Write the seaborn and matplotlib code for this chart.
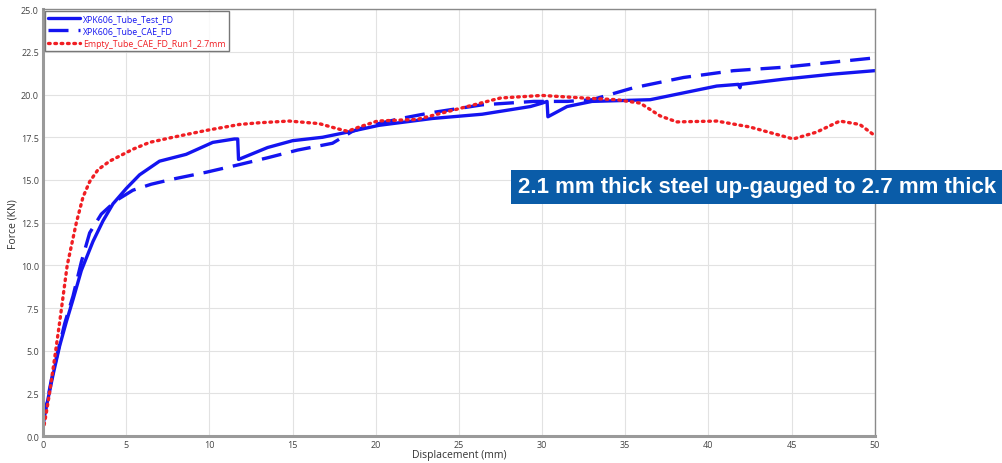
import numpy as np
import pandas as pd
import matplotlib
matplotlib.use("Agg")
import matplotlib.pyplot as plt
import seaborn as sns

# ---- data ----
test_x = [0.0, 0.1, 0.3, 0.6, 1.0, 1.4, 1.8, 2.3, 3.0, 3.6, 4.2, 5.0, 5.8, 7.0, 8.6, 10.2, 11.5, 11.7,
          11.75, 13.5, 15.0, 16.8, 18.3, 20.2, 23.4, 26.4, 29.3, 30.0, 30.3, 30.35, 31.5, 33.0,
          36.5, 38.5, 40.5, 41.8, 41.9, 41.95, 44.5, 47.5, 50.0]
test_y = [0.6, 1.3, 2.2, 3.6, 5.3, 6.7, 8.0, 9.7, 11.4, 12.6, 13.6, 14.5, 15.3, 16.1, 16.5, 17.2, 17.4, 17.4,
          16.2, 16.9, 17.3, 17.5, 17.8, 18.2, 18.6, 18.85, 19.3, 19.5, 19.6, 18.7, 19.3, 19.6,
          19.7, 20.1, 20.5, 20.6, 20.4, 20.6, 20.9, 21.2, 21.4]

cae_x = [0.0, 0.2, 0.5, 0.9, 1.3, 1.8, 2.3, 2.8, 3.5, 4.4, 5.4, 6.5, 7.8, 9.8, 11.8, 13.5, 15.3,
         17.4, 18.6, 19.5, 21.5, 23.4, 26.4, 29.5, 31.5, 33.0, 35.5, 38.5, 41.5, 44.5, 47.5, 50.0]
cae_y = [0.8, 1.8, 3.3, 5.0, 6.6, 8.2, 10.2, 11.9, 13.0, 13.8, 14.4, 14.75, 15.05, 15.45, 15.9, 16.3, 16.75,
         17.15, 17.85, 18.15, 18.6, 18.95, 19.4, 19.6, 19.6, 19.7, 20.4, 21.0, 21.4, 21.6, 21.9, 22.15]

empty_x = [0.0, 0.2, 0.4, 0.7, 1.0, 1.45, 2.0, 2.4, 2.8, 3.3, 4.0, 5.4, 6.4, 7.8, 9.8, 11.8, 13.0,
           14.8, 16.6, 17.7, 18.3, 19.0, 20.1, 22.5, 25.5, 27.5, 30.0, 32.5, 34.5, 35.9, 37.1, 38.1,
           40.5, 42.5, 45.1, 46.5, 47.9, 49.1, 50.0]
empty_y = [0.3, 1.4, 2.6, 4.6, 6.7, 10.0, 12.5, 14.0, 14.9, 15.6, 16.1, 16.8, 17.2, 17.5, 17.9, 18.25, 18.35,
           18.45, 18.3, 18.0, 17.85, 18.1, 18.45, 18.55, 19.3, 19.8, 19.95, 19.8, 19.7, 19.5, 18.75, 18.4,
           18.45, 18.1, 17.4, 17.8, 18.45, 18.25, 17.6]

labels = ["XPK606_Tube_Test_FD", "XPK606_Tube_CAE_FD", "Empty_Tube_CAE_FD_Run1_2.7mm"]
x_ticks = [0, 5, 10, 15, 20, 25, 30, 35, 40, 45, 50]
y_ticks = [0.0, 2.5, 5.0, 7.5, 10.0, 12.5, 15.0, 17.5, 20.0, 22.5, 25.0]
annotation = "2.1 mm thick steel up-gauged to 2.7 mm thick"

sns.set_theme(style="whitegrid")
plt.rcParams['font.family'] = ['Open Sans', 'DejaVu Sans']

fig = plt.figure(figsize=(10.02, 4.64), dpi=100)
ax = fig.add_axes([0.043, 0.058, 0.830, 0.920])

blue = "#1414f0"
red = "#f01e23"
sns.lineplot(x=test_x, y=test_y, ax=ax, sort=False, color=blue, lw=2.4, label=labels[0])
sns.lineplot(x=cae_x, y=cae_y, ax=ax, sort=False, color=blue, lw=2.4, label=labels[1],
             linestyle=(0, (6, 3)))
sns.lineplot(x=empty_x, y=empty_y, ax=ax, sort=False, color=red, lw=2.4, label=labels[2],
             linestyle=(0, (0.5, 1.4)))
ax.lines[-1].set_dash_capstyle("round")

ax.set_xlim(0, 50)
ax.set_ylim(0, 25)
ax.set_xticks(x_ticks)
ax.set_xticklabels([str(t) for t in x_ticks])
ax.set_yticks(y_ticks)
ax.set_yticklabels([f"{t:.1f}" for t in y_ticks])
ax.tick_params(axis="both", labelsize=6.5, colors="#444444", length=2, pad=1)
ax.set_xlabel("Displacement (mm)", fontsize=7.5, color="#333333", labelpad=0)
ax.set_ylabel("Force (KN)", fontsize=7.5, color="#333333", labelpad=2)
ax.grid(True, color="#e2e2e2", lw=0.8)
for s in ["left", "bottom"]:
    ax.spines[s].set_color("#9a9a9a")
    ax.spines[s].set_linewidth(2.2)
for s in ["top", "right"]:
    ax.spines[s].set_color("#8a8a8a")
    ax.spines[s].set_linewidth(1.0)

leg = ax.legend(loc="upper left", fontsize=6.3, frameon=True, fancybox=False,
                handlelength=3.6, handletextpad=0.4, borderpad=0.35, labelspacing=0.35,
                borderaxespad=0.25)
leg.get_frame().set_edgecolor("#555555")
leg.get_frame().set_linewidth(1.0)
for txt, c in zip(leg.get_texts(), [blue, blue, red]):
    txt.set_color(c)

fig.text(0.517, 0.595, annotation, fontsize=16, fontweight="bold", color="white",
         family="Liberation Sans", va="center", ha="left",
         bbox=dict(boxstyle="square,pad=0.3", facecolor="#0a5ca8", edgecolor="none"))

fig.savefig("out.png", dpi=100)
